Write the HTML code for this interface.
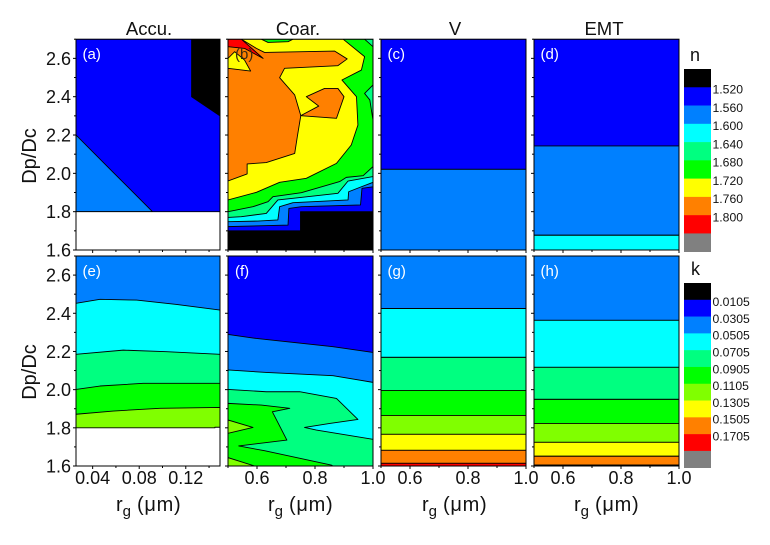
<!DOCTYPE html>
<html>
<head>
<meta charset="utf-8">
<title>Contour panels of n and k</title>
<style>
html,body{margin:0;padding:0;background:#fff;}
svg{display:block;font-family:"Liberation Sans",Arial,sans-serif;}
</style>
</head>
<body>
<svg id="chart" xmlns="http://www.w3.org/2000/svg" width="770" height="545" viewBox="0 0 770 545"></svg>
<script>
// ---- Data: all values are in (rg, Dp/Dc) units ----
const rgTicksFine = [0.04, 0.08, 0.12];
const rgTicksCoarse = [0.6, 0.8, 1.0];
const dpTicks = [1.6, 1.8, 2.0, 2.2, 2.4, 2.6];
const nLevels = ["1.520","1.560","1.600","1.640","1.680","1.720","1.760","1.800"];
const kLevels = ["0.0105","0.0305","0.0505","0.0705","0.0905","0.1105","0.1305","0.1505","0.1705"];

// (a) Accu. n
const accuNLight = [[0.0257,2.2],[0.0577,2.005],[0.0914,1.8],[0.0257,1.8]];
const accuNBlack = [[0.125,2.7],[0.125,2.4],[0.1494,2.3],[0.1494,2.7]];
const accuNWhite = [[0.0257,1.8],[0.1494,1.8],[0.1494,1.6],[0.0257,1.6]];

// (b) Coar. n: lower edges of bands, filled up to the top
const coarNBlueEdge = [[0.5,1.7],[0.75,1.7],[0.75,1.8],[1,1.8]];
const coarNLightEdge = [[0.5,1.722],[0.707,1.73],[0.71,1.817],[0.753,1.826],[0.957,1.835],[0.962,1.922],[1,1.93]];
const coarNCyanEdge = [[0.5,1.748],[0.603,1.751],[0.672,1.757],[0.678,1.826],[0.724,1.847],[0.914,1.861],[0.916,1.904],[0.96,1.93],[1,1.953]];
const coarNSpringEdge = [[0.5,1.77],[0.546,1.774],[0.632,1.791],[0.672,1.861],[0.724,1.87],[0.879,1.896],[0.914,1.96],[1,1.983]];
const coarNGreenEdge = [[0.5,1.8],[0.586,1.826],[0.638,1.852],[0.655,1.878],[0.753,1.899],[0.885,1.957],[0.908,1.979],[0.966,1.988],[1,2.035]];
const coarNYellow = [[0.5,1.861],[0.598,1.901],[0.678,1.953],[0.77,1.974],[0.874,2.052],[0.925,2.148],[0.948,2.252],[0.943,2.4],[0.893,2.487],[0.96,2.539],[0.971,2.609],[0.897,2.7],[0.724,2.7],[0.707,2.687],[0.638,2.683],[0.615,2.7],[0.5,2.7]];
const coarNOrange = [[0.5,1.96],[0.566,1.997],[0.566,2.049],[0.632,2.056],[0.73,2.104],[0.739,2.191],[0.751,2.301],[0.73,2.409],[0.678,2.499],[0.695,2.548],[0.879,2.562],[0.911,2.597],[0.868,2.638],[0.626,2.631],[0.598,2.652],[0.546,2.7],[0.5,2.7]];
const coarNOrangeIsland = [[0.77,2.4],[0.833,2.443],[0.879,2.443],[0.9,2.4],[0.874,2.287],[0.751,2.301],[0.813,2.351]];
const coarNRed = [[0.5,2.7],[0.546,2.7],[0.621,2.6],[0.557,2.652],[0.5,2.661]];
const coarNYellowPatch = [[0.5,2.6],[0.523,2.635],[0.557,2.591],[0.578,2.534],[0.5,2.548]];
const coarNSpringRight = [[1,2.461],[0.971,2.417],[0.989,2.383],[1,2.278]];
const coarNSpringCorner = [[0.971,2.7],[1,2.661],[1,2.7]];

// (e) Accu. k: upper edges of bands, filled down to the bottom
const accuKCyanEdge = [[0.0257,2.452],[0.0463,2.473],[0.0777,2.469],[0.112,2.446],[0.1494,2.417]];
const accuKSpringEdge = [[0.0257,2.185],[0.0663,2.207],[0.1034,2.199],[0.1494,2.185]];
const accuKGreenEdge = [[0.0257,2.001],[0.0463,2.019],[0.0834,2.033],[0.1494,2.033]];
const accuKLimeEdge = [[0.0257,1.871],[0.0577,1.888],[0.0977,1.902],[0.1494,1.907]];
const accuKWhiteEdge = [[0.0257,1.8],[0.145,1.8],[0.145,1.803],[0.1494,1.803]];

// (f) Coar. k
const coarKLightEdge = [[0.5,2.289],[0.598,2.268],[0.862,2.225],[1,2.195]];
const coarKCyanEdge = [[0.5,2.103],[0.632,2.09],[0.862,2.073],[1,2.038]];
const coarKSpringEdge = [[0.5,2.001],[0.632,1.989],[0.747,1.989],[0.874,1.954],[0.948,1.844],[0.851,1.823],[0.764,1.802],[0.805,1.788],[1,1.74]];
const coarKGreen = [[0.5,1.928],[0.615,1.919],[0.713,1.902],[0.653,1.884],[0.703,1.736],[0.537,1.705],[0.626,1.68],[0.856,1.605],[0.862,1.6],[0.5,1.6]];
const coarKLimeUpper = [[0.5,1.841],[0.586,1.802],[0.5,1.771]];
const coarKLimeLower = [[0.5,1.644],[0.592,1.6],[0.5,1.6]];

// Flat band boundaries, top to bottom
const vNBoundaries = [2.021];
const emtNBoundaries = [2.143,1.677];
const vKBoundaries = [2.425,2.169,1.996,1.865,1.766,1.682,1.614];
const emtKBoundaries = [2.363,2.117,1.949,1.823,1.724,1.651,1.605];

// ---- Drawing ----
const NS = "http://www.w3.org/2000/svg";
const svg = document.getElementById("chart");
const BLACK="#000000",BLUE="#0000ff",LIGHT="#0080ff",CYAN="#00ffff",SPRING="#00ff80",GREEN="#00ff00",LIME="#80ff00",YELLOW="#ffff00",ORANGE="#ff8000",RED="#ff0000",GREY="#808080",WHITE="#ffffff";
const TXT = "#111111";

function make(tag, attrs, parent){
  const e = document.createElementNS(NS, tag);
  for (const k in attrs) e.setAttribute(k, attrs[k]);
  (parent || svg).appendChild(e);
  return e;
}

function makeAxes(rect, xMin, xMax){
  const yMin = 1.6, yMax = 2.7;
  return {
    rect: rect, xMin: xMin, xMax: xMax, yMin: yMin, yMax: yMax,
    x: function(v){ return rect.l + (v - xMin) / (xMax - xMin) * (rect.r - rect.l); },
    y: function(v){ return rect.b - (v - yMin) / (yMax - yMin) * (rect.b - rect.t); }
  };
}

function polyPoints(ax, pts){
  return pts.map(function(p){ return ax.x(p[0]).toFixed(2) + "," + ax.y(p[1]).toFixed(2); }).join(" ");
}

function drawPoly(group, ax, pts, color, name){
  const p = make("polygon", {points: polyPoints(ax, pts), fill: color, stroke: "#000", "stroke-width": 0.9, "stroke-linejoin": "round"}, group);
  
  
}

function fillAbove(group, ax, edge, color, name){
  const pts = edge.concat([[ax.xMax, ax.yMax],[ax.xMin, ax.yMax]]);
  drawPoly(group, ax, pts, color, name);
}

function fillBelow(group, ax, edge, color, name){
  const pts = edge.concat([[ax.xMax, ax.yMin],[ax.xMin, ax.yMin]]);
  drawPoly(group, ax, pts, color, name);
}

function drawFlatBands(group, ax, bounds, colors, name){
  const edges = [ax.yMax].concat(bounds, [ax.yMin]);
  for (let i = 0; i < edges.length - 1; i++){
    const pts = [[ax.xMin,edges[i]],[ax.xMax,edges[i]],[ax.xMax,edges[i+1]],[ax.xMin,edges[i+1]]];
    drawPoly(group, ax, pts, colors[i], name + "-band-" + (i + 1));
  }
}

function panel(name, rect, xMin, xMax, letter, letterColor, xTickVals, xMinorStep, painter){
  const ax = makeAxes(rect, xMin, xMax);
  const g = make("g", {});
  
  
  const clipId = "clip-" + name;
  const defs = make("defs", {}, g);
  const cp = make("clipPath", {id: clipId}, defs);
  make("rect", {x: rect.l, y: rect.t, width: rect.r - rect.l, height: rect.b - rect.t}, cp);
  const inner = make("g", {"clip-path": "url(#" + clipId + ")"}, g);
  
  
  painter(inner, ax);

  const frame = make("rect", {x: rect.l, y: rect.t, width: rect.r - rect.l, height: rect.b - rect.t, fill: "none", stroke: "#000", "stroke-width": 1}, g);
  
  

  // y ticks (every 0.1, longer at 0.2)
  for (let i = 0; i <= 11; i++){
    const v = 1.6 + i * 0.1;
    if (v > 2.701) break;
    const major = i % 2 === 0;
    const t = make("line", {x1: rect.l - (major ? 3 : 2), x2: rect.l, y1: ax.y(v), y2: ax.y(v), stroke: "#000", "stroke-width": 1}, g);
    
    
  }
  // x ticks
  const first = Math.ceil(xMin / xMinorStep - 1e-6);
  for (let i = first; i * xMinorStep <= xMax + 1e-6; i++){
    const v = i * xMinorStep;
    const major = xTickVals.some(function(m){ return Math.abs(m - v) < 1e-6; });
    const t = make("line", {x1: ax.x(v), x2: ax.x(v), y1: rect.b, y2: rect.b + (major ? 3 : 2), stroke: "#000", "stroke-width": 1}, g);
    
    
  }
  const lab = make("text", {x: rect.l + (letter === "(f)" || letter === "(b)" ? 7 : 6.5), y: rect.t + 20, "font-size": 15, fill: letterColor}, g);
  lab.textContent = letter;
  
  
  return ax;
}

const colsX = [[76,220],[228,373],[381,526],[534,679]];
const rowTop = {t: 39.2, b: 250};
const rowBot = {t: 256, b: 466};
function rectOf(c, r){ return {l: colsX[c][0], r: colsX[c][1], t: r.t, b: r.b}; }

const FINE_MIN = 0.0257, FINE_MAX = 0.1494;

const axA = panel("panel-a-accu-n", rectOf(0,rowTop), FINE_MIN, FINE_MAX, "(a)", "#fff", rgTicksFine, 0.02, function(g, ax){
  fillAbove(g, ax, [[ax.xMin,1.6],[ax.xMax,1.6]], BLUE, "accu-n-band-1560");
  drawPoly(g, ax, accuNLight, LIGHT, "accu-n-band-1600");
  drawPoly(g, ax, accuNBlack, BLACK, "accu-n-band-1520");
  drawPoly(g, ax, accuNWhite, WHITE, "accu-n-no-data");
});
const axB = panel("panel-b-coar-n", rectOf(1,rowTop), 0.5, 1, "(b)", "#3a2a10", rgTicksCoarse, 0.1, function(g, ax){
  fillAbove(g, ax, [[0.5,1.6],[1,1.6]], BLACK, "coar-n-band-1520");
  fillAbove(g, ax, coarNBlueEdge, BLUE, "coar-n-band-1560");
  fillAbove(g, ax, coarNLightEdge, LIGHT, "coar-n-band-1600");
  fillAbove(g, ax, coarNCyanEdge, CYAN, "coar-n-band-1640");
  fillAbove(g, ax, coarNSpringEdge, SPRING, "coar-n-band-1680");
  fillAbove(g, ax, coarNGreenEdge, GREEN, "coar-n-band-1720");
  drawPoly(g, ax, coarNSpringRight, SPRING, "coar-n-right-patch");
  drawPoly(g, ax, coarNSpringCorner, SPRING, "coar-n-corner-patch");
  drawPoly(g, ax, coarNYellow, YELLOW, "coar-n-band-1760");
  drawPoly(g, ax, coarNOrange, ORANGE, "coar-n-band-1800");
  drawPoly(g, ax, coarNOrangeIsland, ORANGE, "coar-n-island");
  drawPoly(g, ax, coarNRed, RED, "coar-n-red-patch");
  drawPoly(g, ax, coarNYellowPatch, YELLOW, "coar-n-yellow-patch");
});
const axC = panel("panel-c-v-n", rectOf(2,rowTop), 0.5, 1, "(c)", "#fff", rgTicksCoarse, 0.1, function(g, ax){
  drawFlatBands(g, ax, vNBoundaries, [BLUE, LIGHT], "v-n");
});
const axD = panel("panel-d-emt-n", rectOf(3,rowTop), 0.5, 1, "(d)", "#fff", rgTicksCoarse, 0.1, function(g, ax){
  drawFlatBands(g, ax, emtNBoundaries, [BLUE, LIGHT, CYAN], "emt-n");
});
const axE = panel("panel-e-accu-k", rectOf(0,rowBot), FINE_MIN, FINE_MAX, "(e)", "#fff", rgTicksFine, 0.02, function(g, ax){
  fillAbove(g, ax, [[ax.xMin,1.6],[ax.xMax,1.6]], LIGHT, "accu-k-band-1");
  fillBelow(g, ax, accuKCyanEdge, CYAN, "accu-k-band-2");
  fillBelow(g, ax, accuKSpringEdge, SPRING, "accu-k-band-3");
  fillBelow(g, ax, accuKGreenEdge, GREEN, "accu-k-band-4");
  fillBelow(g, ax, accuKLimeEdge, LIME, "accu-k-band-5");
  fillBelow(g, ax, accuKWhiteEdge, WHITE, "accu-k-no-data");
});
const axF = panel("panel-f-coar-k", rectOf(1,rowBot), 0.5, 1, "(f)", "#fff", rgTicksCoarse, 0.1, function(g, ax){
  fillAbove(g, ax, [[0.5,1.6],[1,1.6]], BLUE, "coar-k-band-1");
  fillBelow(g, ax, coarKLightEdge, LIGHT, "coar-k-band-2");
  fillBelow(g, ax, coarKCyanEdge, CYAN, "coar-k-band-3");
  fillBelow(g, ax, coarKSpringEdge, SPRING, "coar-k-band-4");
  drawPoly(g, ax, coarKGreen, GREEN, "coar-k-band-5");
  drawPoly(g, ax, coarKLimeUpper, LIME, "coar-k-lime-upper");
  drawPoly(g, ax, coarKLimeLower, LIME, "coar-k-lime-lower");
});
const axG = panel("panel-g-v-k", rectOf(2,rowBot), 0.5, 1, "(g)", "#fff", rgTicksCoarse, 0.1, function(g, ax){
  drawFlatBands(g, ax, vKBoundaries, [LIGHT,CYAN,SPRING,GREEN,LIME,YELLOW,ORANGE,RED], "v-k");
});
const axH = panel("panel-h-emt-k", rectOf(3,rowBot), 0.5, 1, "(h)", "#fff", rgTicksCoarse, 0.1, function(g, ax){
  drawFlatBands(g, ax, emtKBoundaries, [LIGHT,CYAN,SPRING,GREEN,LIME,YELLOW,ORANGE,RED], "emt-k");
});

// Column titles
const columnTitles = ["Accu.","Coar.","V","EMT"];
const titleCenters = [149,298,455,604];
columnTitles.forEach(function(t, i){
  const e = make("text", {x: titleCenters[i], y: 35, "font-size": 18.5, "text-anchor": "middle", fill: TXT});
  e.textContent = t;
  
  
});

// Y tick labels and titles
[axA, axE].forEach(function(ax){
  dpTicks.forEach(function(v){
    const e = make("text", {x: 71, y: ax.y(v) + 6.5, "font-size": 18, "text-anchor": "end", fill: TXT});
    e.textContent = v.toFixed(1);
    
    
  });
});
[156, 372].forEach(function(cy){
  const e = make("text", {x: 36, y: cy, "font-size": 20, "text-anchor": "middle", fill: TXT, transform: "rotate(-90 36 " + cy + ")"});
  e.textContent = "Dp/Dc";
  
  
});

// X tick labels and titles
[[axE, rgTicksFine, 2],[axF, rgTicksCoarse, 1],[axG, rgTicksCoarse, 1],[axH, rgTicksCoarse, 1]].forEach(function(row){
  const ax = row[0];
  row[1].forEach(function(v){
    const e = make("text", {x: ax.x(v), y: 484, "font-size": 18, "text-anchor": "middle", fill: TXT});
    e.textContent = v.toFixed(row[2]);
    
    
  });
});
[116,268,422,574].forEach(function(x0){
  const e = make("text", {x: x0, y: 511, "font-size": 20, fill: TXT});
  
  
  const a = make("tspan", {}, e); a.textContent = "r";
  const b = make("tspan", {dy: 5, "font-size": 15}, e); b.textContent = "g";
  const c = make("tspan", {dy: -5, dx: 6, "letter-spacing": 0.7}, e); c.textContent = "(\u03bcm)";
});

// Colour bars
function colorBar(name, title, titleX, titleY, x0, x1, top, bottom, colors, labels, fontSize){
  const h = (bottom - top) / colors.length;
  const tt = make("text", {x: titleX, y: titleY, "font-size": 18, fill: TXT});
  tt.textContent = title;
  
  
  colors.forEach(function(c, i){
    const r = make("rect", {x: x0, y: top + i * h, width: x1 - x0, height: h + 0.3, fill: c});
    
    
  });
  labels.forEach(function(l, i){
    const e = make("text", {x: x1 + 1.5, y: top + (i + 1) * h + 6.3, "font-size": fontSize, fill: TXT});
    e.textContent = l;
    
    
  });
}
colorBar("n-colorbar", "n", 690, 61, 684, 711, 69, 251.7, [BLACK,BLUE,LIGHT,CYAN,SPRING,GREEN,YELLOW,ORANGE,RED,GREY], nLevels, 12.2);
colorBar("k-colorbar", "k", 691, 275, 684, 711, 283, 467.7, [BLACK,BLUE,LIGHT,CYAN,SPRING,GREEN,LIME,YELLOW,ORANGE,RED,GREY], kLevels, 12.2);
</script>
</body>
</html>
